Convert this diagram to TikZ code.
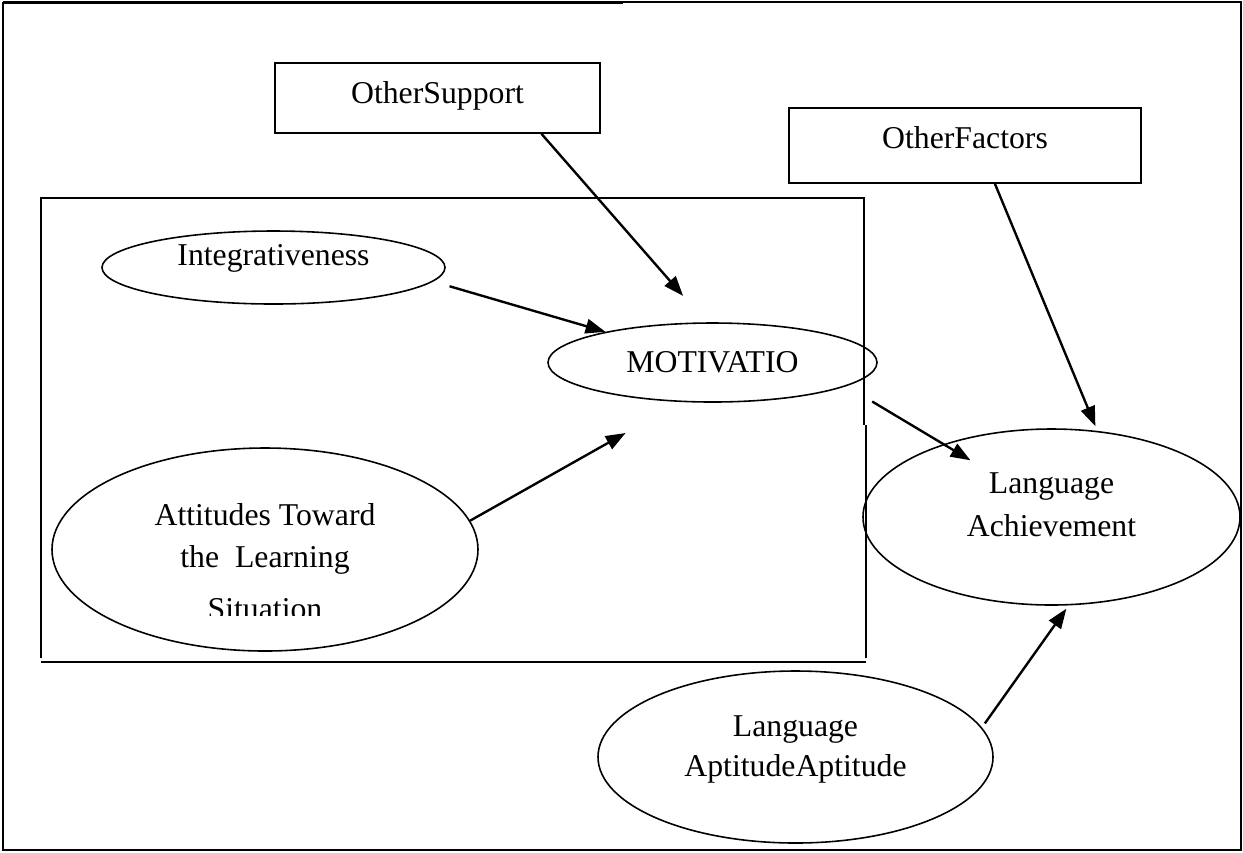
\documentclass[tikz,border=0pt]{standalone}
\usepackage{fontspec}
\setmainfont{Liberation Serif}
\usetikzlibrary{shapes.geometric}
\usetikzlibrary{arrows.meta}
\newcommand{\pix}{0.3781pt} % one pixel of the page

\begin{document}
\begin{tikzpicture}[x=\pix, y=-\pix,
	>={Triangle[length=7.5pt,width=5.5pt]},
	every node/.style={font=\fontsize{12pt}{15.9pt}\selectfont},
	box/.style={draw, rectangle, line width=0.6pt, inner sep=0pt},
	oval/.style={draw, ellipse, line width=0.6pt, inner sep=0pt, align=center},
	link/.style={->, line width=0.9pt}]
	\useasboundingbox (0,0) rectangle (1243,852);
	
	% Outer frame (heavier on the left half of the top edge)
	\draw[line width=0.6pt] (3,2) -- (3,850) -- (1241,850) -- (1241,2) -- (623,2);
	\draw[line width=1.4pt] (3,2.5) -- (623,2.5);
	
	% Inner frame round the motivation part
	\draw[line width=0.6pt] (41,658) -- (41,198) -- (864,198) -- (864,425);
	\draw[line width=0.6pt] (866,425) -- (866,658);
	\draw[line width=0.6pt] (41,662) -- (866,662);
	
	% Boxes
	\node[box, minimum width=325*\pix, minimum height=70*\pix, text depth=4.2pt] (sup) at (437.5,98) {OtherSupport};
	\node[box, minimum width=352*\pix, minimum height=75*\pix, text depth=6.1pt] (fact) at (965,145.5) {OtherFactors};
	
	% Ellipses
	\node[oval, minimum width=343*\pix, minimum height=73*\pix, text depth=9.3pt] (integ) at (273.5,267.5) {Integrativeness};
	\node[oval, minimum width=329*\pix, minimum height=79*\pix] (mot) at (712.5,362.5) {MOTIVATIO};
	\node[oval, minimum width=426*\pix, minimum height=203*\pix] (att) at (265,549.5) {};
	\begin{scope}
		\clip (0,0) rectangle (1243,615); % last line is cut off
		\node[align=center] (atttext) at (265,562) {Attitudes Toward\\the\ \ Learning\\[3.8pt]Situation};
	\end{scope}
	\node[oval, minimum width=377*\pix, minimum height=176*\pix, text depth=9.3pt,
		font=\fontsize{12pt}{16.3pt}\selectfont] (ach) at (1051.5,517) {Language\\Achievement};
	\node[oval, minimum width=395*\pix, minimum height=172*\pix, text depth=8.3pt,
		font=\fontsize{12pt}{15.1pt}\selectfont] (apt) at (795.5,757) {Language\\AptitudeAptitude};
	
	% Arrows
	\draw[link, shorten >=35*\pix] (sup.-19.8) -- (mot.99.3);
	\draw[link, shorten <=17*\pix] (integ.-5.7) -- (mot.164.7);
	\draw[link, shorten >=63*\pix] (att.8.2) -- (mot.231.6);
	\draw[link, shorten >=5*\pix] (fact.-52.3) -- (ach.62);
	\draw[link, shorten <=30*\pix, shorten >=-31.5*\pix] (mot.-10.8) -- (ach.146.2);
	\draw[link, shorten <=5*\pix, shorten >=4*\pix] (apt.9.9) -- (ach.-79.7);
\end{tikzpicture}
\end{document}
